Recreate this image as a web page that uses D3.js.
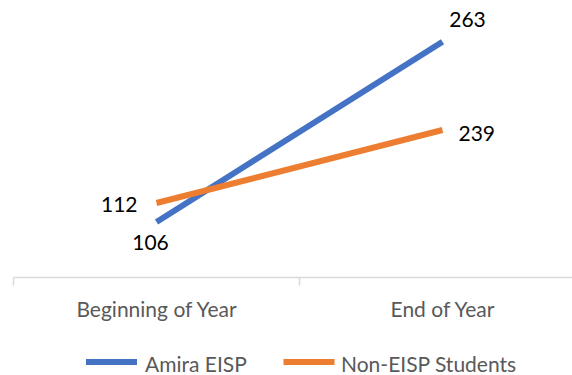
<!DOCTYPE html>
<html>
<head>
<meta charset="utf-8">
<script src="https://cdn.jsdelivr.net/npm/d3@7"></script>
<style>
  html, body { margin: 0; padding: 0; background: #fff; }
  svg { display: block; }
  text { font-family: Lato, "Open Sans", sans-serif; }
</style>
</head>
<body>
<svg id="chart" width="572" height="375"></svg>
<script>
// Category axis
const categories = ["Beginning of Year", "End of Year"];

// Series values (Amira EISP plotted on the primary axis, Non-EISP on the secondary axis)
const seriesNames = ["Amira EISP", "Non-EISP Students"];
const amiraValues = [106, 263];
const nonEispValues = [112, 239];

const colors = ["#4472C4", "#ED7D31"];

const svg = d3.select("#chart");
const W = 572;

// Band scale for categories: each category gets an equal slot
const x = d3.scaleBand().domain(categories).range([13.5, 585.5]).paddingInner(0).paddingOuter(0);
const cx = c => x(c) + x.bandwidth() / 2;

// Value axes (hidden): primary and secondary
const yPrimary = d3.scaleLinear().domain([0, 300]).range([343.7, -0.8]);
const ySecondary = d3.scaleLinear().domain([0, 300]).range([267.4, 94.9]);

const series = [
  { name: seriesNames[0], values: amiraValues, y: yPrimary, color: colors[0] },
  { name: seriesNames[1], values: nonEispValues, y: ySecondary, color: colors[1] }
];

// Category axis line with tick marks between categories
const axisY = 277.5;
const xAxis = d3.axisBottom(x).tickSize(0).tickFormat(() => "");
const axisG = svg.append("g").attr("transform", `translate(0,${axisY})`).call(xAxis);
axisG.select(".domain").remove();
axisG.append("line")
  .attr("x1", 13.5).attr("x2", W).attr("y1", 0).attr("y2", 0)
  .attr("stroke", "#d9d9d9").attr("stroke-width", 1.5);
const boundaries = [x(categories[0]), x(categories[1])];
axisG.selectAll("line.tk").data(boundaries).enter().append("line")
  .attr("class", "tk")
  .attr("x1", d => d).attr("x2", d => d)
  .attr("y1", 0).attr("y2", 8)
  .attr("stroke", "#d9d9d9").attr("stroke-width", 1.5);
axisG.selectAll("text.cat").data(categories).enter().append("text")
  .attr("class", "cat")
  .attr("x", d => cx(d))
  .attr("y", 39)
  .attr("text-anchor", "middle")
  .attr("fill", "#595959")
  .attr("font-size", 21)
  .text(d => d);

// Lines
const line = s => d3.line().x((v, i) => cx(categories[i])).y(v => s.y(v));
svg.selectAll("path.series").data(series).enter().append("path")
  .attr("class", "series")
  .attr("d", s => line(s)(s.values))
  .attr("fill", "none")
  .attr("stroke", s => s.color)
  .attr("stroke-width", 6)
  .attr("stroke-linecap", "butt");

// Data labels with per-point placement
const placements = [
  [{ dx: -6, dy: 28, anchor: "middle" }, { dx: 25, dy: -15, anchor: "middle" }],
  [{ dx: -19, dy: 9, anchor: "end" }, { dx: 16, dy: 11, anchor: "start" }]
];
series.forEach((s, si) => {
  s.values.forEach((v, i) => {
    const p = placements[si][i];
    svg.append("text")
      .attr("x", cx(categories[i]) + p.dx)
      .attr("y", s.y(v) + p.dy)
      .attr("text-anchor", p.anchor)
      .attr("font-size", 21)
      .attr("fill", "#000")
      .text(v);
  });
});

// Legend
const legendY = 362;
const legendItems = [
  { x: 86, textX: 145 },
  { x: 283.5, textX: 341 }
];
series.forEach((s, i) => {
  const g = svg.append("g");
  g.append("line")
    .attr("x1", legendItems[i].x).attr("x2", legendItems[i].x + 51)
    .attr("y1", legendY).attr("y2", legendY)
    .attr("stroke", s.color).attr("stroke-width", 6);
  g.append("text")
    .attr("x", legendItems[i].textX)
    .attr("y", legendY + 9.5)
    .attr("fill", "#595959")
    .attr("font-size", 21)
    .text(s.name);
});
</script>
</body>
</html>
